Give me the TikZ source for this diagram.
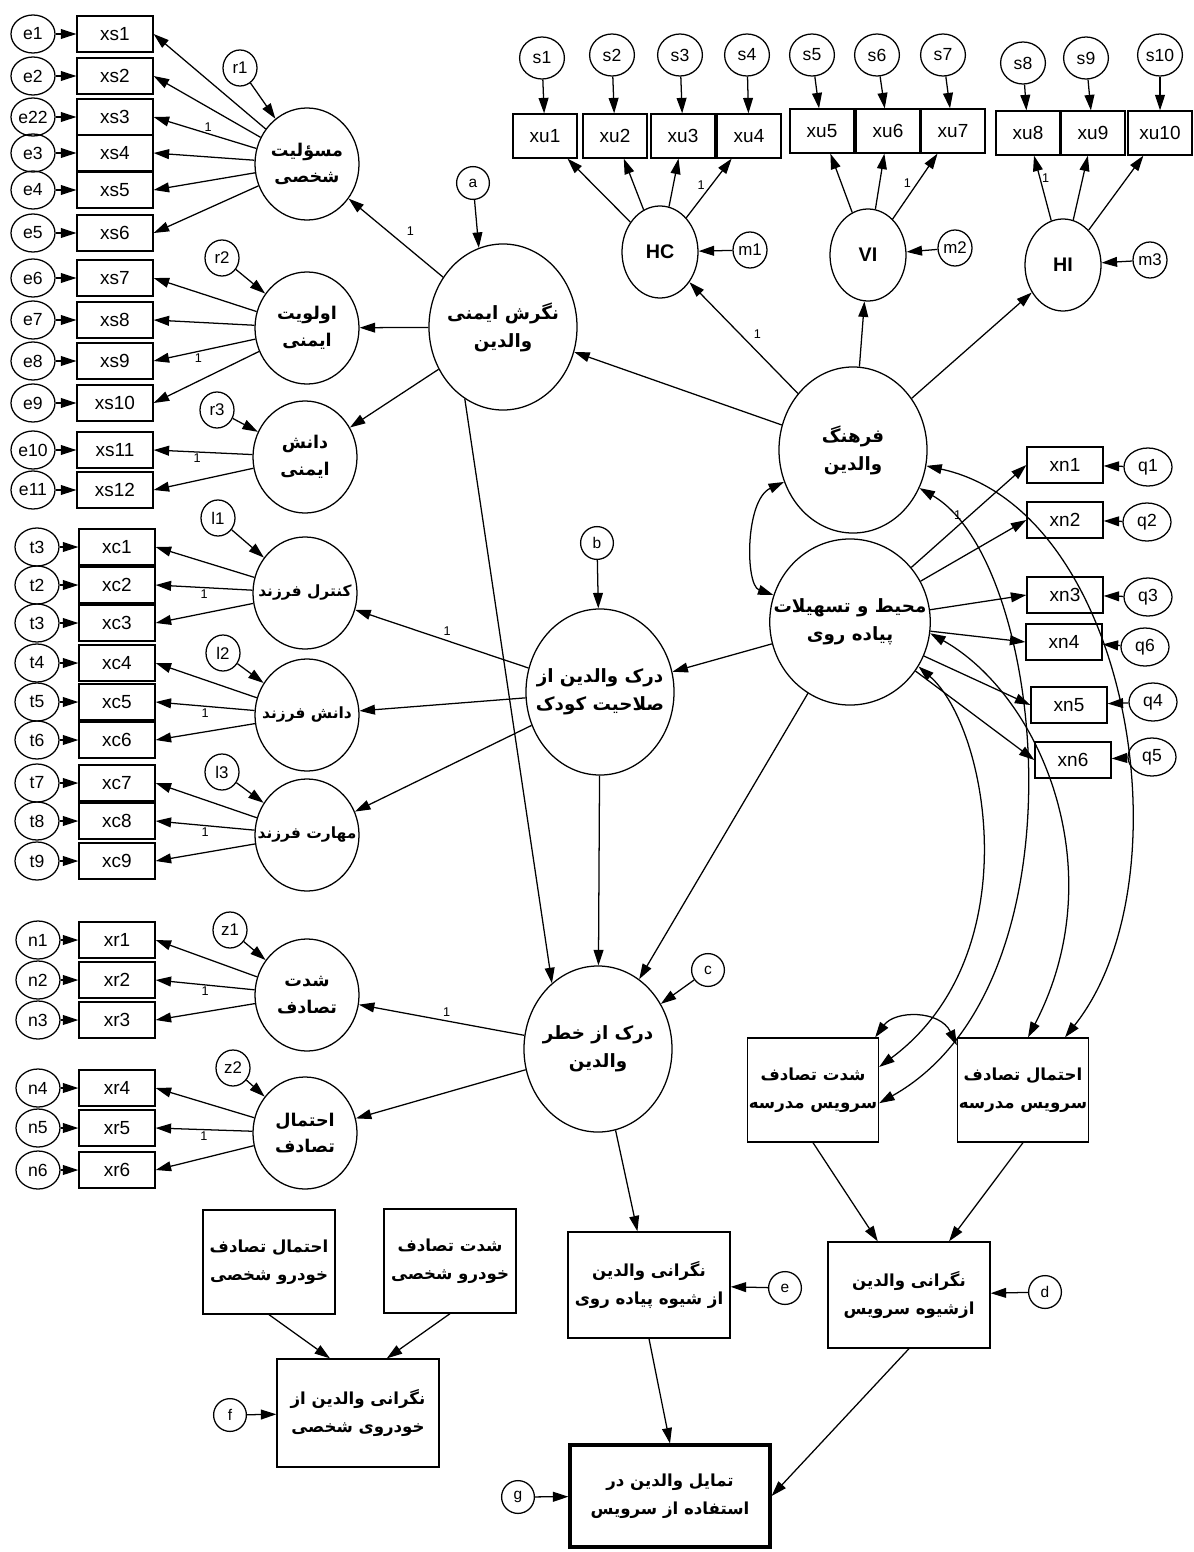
\documentclass[tikz,border=0pt]{standalone}
\usepackage{fontspec}
\setmainfont{Liberation Sans}
\newfontfamily\farsi[Script=Arabic]{DejaVu Sans}
\TeXXeTstate=1
\usetikzlibrary{arrows.meta, shapes.geometric}
\newcommand{\fatext}[1]{{\farsi\bfseries\beginR #1\endR}}

\begin{document}
\begin{tikzpicture}[
		% one unit = one pixel of the original drawing
		x=0.025cm, y=-0.025cm,
		line width=0.9pt,
		ind/.style={rectangle, draw, minimum width=1.9cm, minimum height=0.9cm, inner sep=0pt, font=\fontsize{13.5}{15}\selectfont},
		uind/.style={ind, minimum width=1.6cm, minimum height=1.1cm},
		err/.style={ellipse, draw, minimum width=1.1cm, minimum height=0.95cm, inner sep=0pt, font=\fontsize{12.5}{14}\selectfont},
		uerr/.style={err, minimum width=1.12cm, minimum height=1.05cm},
		dist/.style={ellipse, draw, minimum width=0.85cm, minimum height=0.9cm, inner sep=0pt, font=\fontsize{12}{14}\selectfont},
		res/.style={circle, draw, minimum size=0.82cm, inner sep=0pt, font=\fontsize{11}{13}\selectfont},
		% negative inner sep keeps the ellipse at its minimum size
		lat/.style={ellipse, draw, minimum width=2.6cm, minimum height=2.8cm, inner sep=-14pt, align=center, font=\fontsize{12.5}{19}\selectfont},
		kid/.style={lat, font=\fontsize{11}{14}\selectfont},
		big/.style={lat, minimum width=3.7cm, minimum height=4.15cm, font=\fontsize{13}{20}\selectfont},
		dimen/.style={ellipse, draw, minimum width=1.9cm, minimum height=2.3cm, inner sep=0pt, font=\bfseries\fontsize{14}{16}\selectfont},
		obs/.style={rectangle, draw, align=center, minimum width=3.25cm, minimum height=2.6cm, inner sep=1pt, font=\fontsize{11.8}{20}\selectfont},
		arr/.style={-{Triangle[length=11pt,width=7pt]}},
		cov/.style={{Triangle[length=11pt,width=7pt]}-{Triangle[length=11pt,width=7pt]}},
		one/.style={font=\fontsize{9}{10}\selectfont, inner sep=1pt}
	]
	\path[fill=white] (0,0) rectangle (1193,1552);
	
	% --- 1. Safety attitude and its three factors ---
	\node[big] (att) at (503,327) {\fatext{نگرش ایمنی}\\\fatext{والدین}};
	\node[res] (a) at (473,183) {a};
	\node[lat] (resp) at (307,164) {\fatext{مسؤلیت}\\\fatext{شخصی}};
	\node[lat] (prio) at (307,328) {\fatext{اولویت}\\\fatext{ایمنی}};
	\node[lat] (sknow) at (305,457) {\fatext{دانش}\\\fatext{ایمنی}};
	\node[dist] (r1) at (240,68) {r1};
	\node[dist] (r2) at (222,258) {r2};
	\node[dist] (r3) at (217,410) {r3};
	
	\foreach \i/\y/\lab in {1/34/e1, 2/76/e2, 3/117/e22, 4/153/e3, 5/190/e4, 6/233/e5,
		7/278/e6, 8/320/e7, 9/361/e8, 10/403/e9, 11/450/e10, 12/490/e11} {
		\node[ind] (xs\i) at (115,\y) {xs\i};
		\node[err] (exs\i) at (33,\y) {\lab};
		\draw[arr] (exs\i) -- (xs\i);
	}
	\foreach \i in {1,...,6} \draw[arr] (resp) -- (xs\i.east);
	\foreach \i in {7,...,10} \draw[arr] (prio) -- (xs\i.east);
	\foreach \i in {11,12} \draw[arr] (sknow) -- (xs\i.east);
	\path (resp) -- (xs3.east) node[one, pos=.47, above] (w-xs3) {1};
	\path (prio) -- (xs9.east) node[one, pos=.56, below] (w-xs9) {1};
	\path (sknow) -- (xs11.east) node[one, pos=.56, below] (w-xs11) {1};
	
	\draw[arr] (a) -- (att.107);
	\draw[arr] (r1) -- (resp);
	\draw[arr] (r2) -- (prio);
	\draw[arr] (r3) -- (sknow);
	\draw[arr] (att) -- (resp) node[one, pos=.45, above right=3pt] (w-resp) {1};
	\draw[arr] (att) -- (prio);
	\draw[arr] (att) -- (sknow);
	
	% --- 2. Parents' culture and its dimensions ---
	\node[big] (cult) at (853,450) {\fatext{فرهنگ}\\\fatext{والدین}};
	\node[dimen] (HC) at (660,252) {HC};
	\node[dimen] (VI) at (868,255) {VI};
	\node[dimen] (HI) at (1063,265) {HI};
	\node[dist] (m1) at (750,250) {m1};
	\node[dist] (m2) at (955,248) {m2};
	\node[dist] (m3) at (1150,260) {m3};
	
	\foreach \i/\x/\y/\sx/\sy in {1/545/136/542/58, 2/615/136/612/55, 3/683/136/680/55, 4/749/136/747/55,
		5/822/131/812/55, 6/888/131/877/55, 7/953/131/943/55,
		8/1028/133/1023/63, 9/1093/133/1086/58, 10/1160/133/1160/55} {
		\node[uind] (xu\i) at (\x,\y) {xu\i};
		\node[uerr] (s\i) at (\sx,\sy) {s\i};
		\draw[arr] (s\i) -- (xu\i);
	}
	\foreach \i in {1,...,4} \draw[arr] (HC) -- (xu\i);
	\foreach \i in {5,6,7} \draw[arr] (VI) -- (xu\i);
	\foreach \i in {8,9,10} \draw[arr] (HI) -- (xu\i);
	\path (HC) -- (xu4) node[one, pos=.45, above left] (w-xu4) {1};
	\path (VI) -- (xu7) node[one, pos=.45, above left] (w-xu7) {1};
	\path (HI) -- (xu8) node[one, pos=.65, right] (w-xu8) {1};
	
	\draw[arr] (m1) -- (HC);
	\draw[arr] (m2) -- (VI);
	\draw[arr] (m3) -- (HI);
	\draw[arr] (cult) -- (HC) node[one, pos=.45, above right=2pt] (w-HC) {1};
	\draw[arr] (cult) -- (VI);
	\draw[arr] (cult) -- (HI);
	\draw[arr] (cult) -- (att);
	
	% --- 3. Walking environment ---
	\node[big] (env) at (850,622) {\fatext{محیط و تسهیلات}\\\fatext{پیاده روی}};
	\draw[cov] (cult) .. controls (745,500) and (745,585) .. (env);
	
	\foreach \i/\x/\y/\qx/\qy/\lab in {1/1065/465/1148/467/q1, 2/1065/520/1147/522/q2, 3/1065/595/1148/597/q3,
		4/1064/642/1145/647/q6, 5/1069/705/1153/702/q4, 6/1073/760/1152/757/q5} {
		\node[ind] (xn\i) at (\x,\y) {xn\i};
		\node[err, minimum width=1.2cm] (q\i) at (\qx,\qy) {\lab};
		\draw[arr] (q\i) -- (xn\i);
		\draw[arr] (env) -- (xn\i.west);
	}
	\path (env) -- (xn1.west) node[one, pos=.45, above left] (w-xn1) {1};
	
	% --- 4. Perceived child competence ---
	\node[big] (comp) at (600,692) {\fatext{درک والدین از}\\\fatext{صلاحیت کودک}};
	\node[res] (b) at (597,543) {b};
	\node[kid] (ctrl) at (305,593) {\fatext{کنترل فرزند}};
	\node[kid] (kknow) at (307,715) {\fatext{دانش فرزند}};
	\node[kid] (skill) at (307,835) {\fatext{مهارت فرزند}};
	\node[dist] (l1) at (218,518) {l1};
	\node[dist] (l2) at (223,653) {l2};
	\node[dist] (l3) at (222,772) {l3};
	
	\foreach \i/\y/\lab in {1/547/t3, 2/585/t2, 3/623/t3, 4/663/t4, 5/702/t5, 6/740/t6,
		7/783/t7, 8/821/t8, 9/861/t9} {
		\node[ind] (xc\i) at (117,\y) {xc\i};
		\node[err] (exc\i) at (37,\y) {\lab};
		\draw[arr] (exc\i) -- (xc\i);
	}
	\foreach \i in {1,2,3} \draw[arr] (ctrl) -- (xc\i.east);
	\foreach \i in {4,5,6} \draw[arr] (kknow) -- (xc\i.east);
	\foreach \i in {7,8,9} \draw[arr] (skill) -- (xc\i.east);
	\path (ctrl) -- (xc2.east) node[one, pos=.5, below] (w-xc2) {1};
	\path (kknow) -- (xc5.east) node[one, pos=.5, below] (w-xc5) {1};
	\path (skill) -- (xc8.east) node[one, pos=.5, below] (w-xc8) {1};
	
	\draw[arr] (l1) -- (ctrl);
	\draw[arr] (l2) -- (kknow);
	\draw[arr] (l3) -- (skill);
	\draw[arr] (b) -- (comp);
	\draw[arr] (env) -- (comp);
	\draw[arr] (comp) -- (ctrl) node[one, pos=.47, above=2pt] (w-ctrl) {1};
	\draw[arr] (comp) -- (kknow);
	\draw[arr] (comp) -- (skill);
	
	% --- 5. Perceived risk ---
	\node[big] (risk) at (598,1049) {\fatext{درک از خطر}\\\fatext{والدین}};
	\node[res] (c) at (708,970) {c};
	\node[lat] (sev) at (307,995) {\fatext{شدت}\\\fatext{تصادف}};
	\node[lat] (prob) at (305,1133) {\fatext{احتمال}\\\fatext{تصادف}};
	\node[dist] (z1) at (230,930) {z1};
	\node[dist] (z2) at (233,1068) {z2};
	
	\foreach \i/\y in {1/940, 2/980, 3/1020, 4/1088, 5/1128, 6/1170} {
		\node[ind] (xr\i) at (117,\y) {xr\i};
		\node[err] (n\i) at (38,\y) {n\i};
		\draw[arr] (n\i) -- (xr\i);
	}
	\foreach \i in {1,2,3} \draw[arr] (sev) -- (xr\i.east);
	\foreach \i in {4,5,6} \draw[arr] (prob) -- (xr\i.east);
	\path (sev) -- (xr2.east) node[one, pos=.5, below] (w-xr2) {1};
	\path (prob) -- (xr5.east) node[one, pos=.5, below] (w-xr5) {1};
	
	\draw[arr] (z1) -- (sev);
	\draw[arr] (z2) -- (prob);
	\draw[arr] (c) -- (risk);
	\draw[arr] (comp) -- (risk);
	\draw[arr] (att.242) -- (risk.125);
	\draw[arr] (env) -- (risk);
	\draw[arr] (risk) -- (sev) node[one, pos=.47, above=2pt] (w-sev) {1};
	\draw[arr] (risk) -- (prob);
	
	% --- 6. School service accident boxes ---
	\node[obs] (sevS) at (813,1090) {\fatext{شدت تصادف}\\\fatext{سرویس مدرسه}};
	\node[obs] (probS) at (1023,1090) {\fatext{احتمال تصادف}\\\fatext{سرویس مدرسه}};
	\draw[cov] ([xshift=-0.1cm]sevS.north east) .. controls (895,1010) and (940,1010) .. ([yshift=-0.2cm]probS.north west);
	\draw[cov] (cult) .. controls (1130,510) and (1190,880) .. ([xshift=1.05cm]probS.north);
	\draw[cov] (cult) .. controls (1045,560) and (1090,985) .. ([yshift=-0.33cm]sevS.east);
	\draw[cov] (env.-8) .. controls (1040,695) and (1115,870) .. ([xshift=0.125cm]probS.north);
	\draw[cov] (env.-33) .. controls (988,727) and (1030,955) .. ([yshift=0.575cm]sevS.east);
	
	% --- 7. Worries and intention ---
	\node[obs, minimum width=4.05cm, minimum height=2.65cm] (worryW) at (649,1285) {\fatext{نگرانی والدین}\\\fatext{از شیوه پیاده روی}};
	\node[res] (e) at (785,1288) {e};
	\node[obs, minimum width=4.05cm, minimum height=2.65cm] (worryS) at (909,1295) {\fatext{نگرانی والدین}\\\fatext{ازشیوه سرویس}};
	\node[res] (d) at (1045,1292) {d};
	\node[obs, minimum width=3.3cm] (probC) at (269,1262) {\fatext{احتمال تصادف}\\\fatext{خودرو شخصی}};
	\node[obs, minimum width=3.3cm] (sevC) at (450,1261) {\fatext{شدت تصادف}\\\fatext{خودرو شخصی}};
	\node[obs, minimum width=4.05cm, minimum height=2.7cm] (worryC) at (358,1413) {\fatext{نگرانی والدین از}\\\fatext{خودروی شخصی}};
	\node[res] (f) at (230,1415) {f};
	\node[obs, line width=2.2pt, minimum width=5cm, minimum height=2.55cm] (intent) at (670,1496) {\fatext{تمایل والدین در}\\\fatext{استفاده از سرویس}};
	\node[res] (g) at (518,1497) {g};
	
	\draw[arr] (risk) -- (worryW);
	\draw[arr] (sevS.south) -- ([xshift=-0.78cm]worryS.north);
	\draw[arr] (probS.south) -- ([xshift=1cm]worryS.north);
	\draw[arr] (e) -- (worryW);
	\draw[arr] (d) -- (worryS);
	\draw[arr] (probC.south) -- ([xshift=-0.7cm]worryC.north);
	\draw[arr] (sevC.south) -- ([xshift=0.72cm]worryC.north);
	\draw[arr] (f) -- (worryC);
	\draw[arr] (worryW.south) -- (intent.north);
	\draw[arr] (worryS.south) -- (intent.east);
	\draw[arr] (g) -- (intent);
	
\end{tikzpicture}
\end{document}
